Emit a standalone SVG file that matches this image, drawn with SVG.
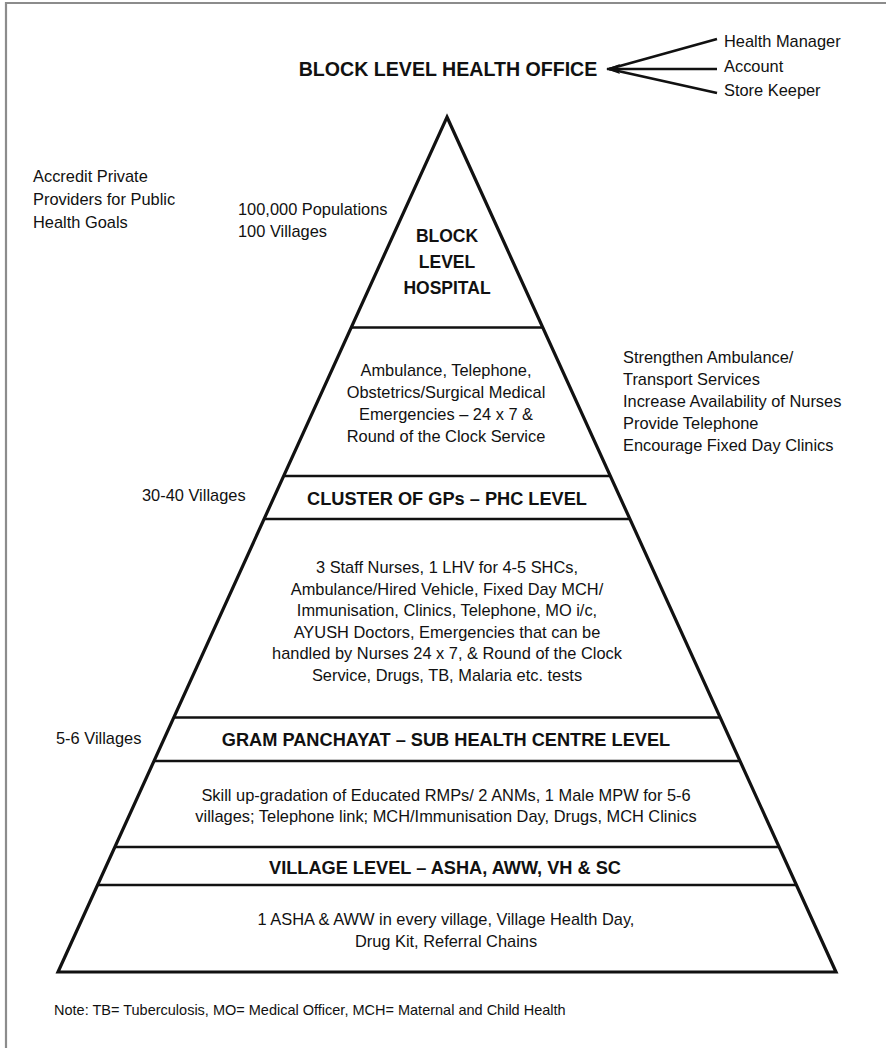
<svg xmlns="http://www.w3.org/2000/svg" width="886" height="1048" viewBox="0 0 886 1048">
<defs>
<marker id="arrow" viewBox="0 0 14 10" refX="13" refY="5" markerWidth="14" markerHeight="10" markerUnits="userSpaceOnUse" orient="auto">
<path d="M0,0 L14,5 L0,10 L3,5 z" fill="#111"/>
</marker>
<style>
text{font-family:"Liberation Sans",Arial,sans-serif;fill:#111}
.r{font-size:16.4px}
.c{font-size:16.4px;text-anchor:middle}
.b{font-size:18.2px;font-weight:bold;text-anchor:middle}
.band{stroke:#111;stroke-width:2.6;fill:none}
.conn{stroke:#111;stroke-width:2.6;fill:none}
</style>
</defs>
<rect width="886" height="1048" fill="#fff"/>
<g id="frame" stroke="#8c8c8c" stroke-width="2.2" fill="none">
<line x1="5" y1="3" x2="886" y2="3"/>
<line x1="6" y1="2" x2="6" y2="1048"/>
</g>

<g id="pyramid">
<line class="band" x1="351" y1="327.5" x2="543" y2="327.5"/>
<line class="band" x1="283" y1="476" x2="611" y2="476"/>
<line class="band" x1="264" y1="519" x2="630" y2="519"/>
<line class="band" x1="173" y1="717.5" x2="721" y2="717.5"/>
<line class="band" x1="154" y1="761" x2="740" y2="761"/>
<line class="band" x1="115" y1="847" x2="779" y2="847"/>
<line class="band" x1="97" y1="885" x2="797" y2="885" stroke-width="3"/>
<polygon points="447,117 836,972 58,972" fill="none" stroke="#111" stroke-width="3.2" stroke-linejoin="miter"/>
</g>

<g id="office">
<text x="448" y="76" style="font-size:19.6px;font-weight:bold;text-anchor:middle">BLOCK LEVEL HEALTH OFFICE</text>
</g>
<g id="staff">
<text class="r" x="724" y="47">Health Manager</text>
<text class="r" x="724" y="72">Account</text>
<text class="r" x="724" y="96">Store Keeper</text>
</g>
<g id="connectors">
<line class="conn" x1="717" y1="39" x2="609" y2="69"/>
<line class="conn" x1="717" y1="93" x2="609" y2="69"/>
<line class="conn" x1="717" y1="69" x2="607" y2="69" marker-end="url(#arrow)"/>
</g>

<g id="accredit">
<text class="r" x="33" y="182">Accredit Private</text>
<text class="r" x="33" y="205">Providers for Public</text>
<text class="r" x="33" y="228">Health Goals</text>
</g>
<g id="population">
<text class="r" x="238" y="215">100,000 Populations</text>
<text class="r" x="238" y="237">100 Villages</text>
</g>
<g id="block-hospital">
<text class="b" x="447" y="242" style="font-size:17.5px">BLOCK</text>
<text class="b" x="447" y="268" style="font-size:17.5px">LEVEL</text>
<text class="b" x="447" y="294" style="font-size:17.5px">HOSPITAL</text>
</g>
<g id="hospital-services">
<text class="c" x="446" y="376">Ambulance, Telephone,</text>
<text class="c" x="446" y="398">Obstetrics/Surgical Medical</text>
<text class="c" x="446" y="420">Emergencies – 24 x 7 &amp;</text>
<text class="c" x="446" y="442">Round of the Clock Service</text>
</g>
<g id="strengthen">
<text class="r" x="623" y="363">Strengthen Ambulance/</text>
<text class="r" x="623" y="385">Transport Services</text>
<text class="r" x="623" y="407">Increase Availability of Nurses</text>
<text class="r" x="623" y="429">Provide Telephone</text>
<text class="r" x="623" y="451">Encourage Fixed Day Clinics</text>
</g>
<g id="phc">
<text class="r" x="142" y="501">30-40 Villages</text>
<text class="b" x="447" y="505">CLUSTER OF GPs – PHC LEVEL</text>
</g>
<g id="phc-services">
<text class="c" x="447" y="573">3 Staff Nurses, 1 LHV for 4-5 SHCs,</text>
<text class="c" x="447" y="594.5">Ambulance/Hired Vehicle, Fixed Day MCH/</text>
<text class="c" x="447" y="616">Immunisation, Clinics, Telephone, MO i/c,</text>
<text class="c" x="447" y="637.5">AYUSH Doctors, Emergencies that can be</text>
<text class="c" x="447" y="659">handled by Nurses 24 x 7, &amp; Round of the Clock</text>
<text class="c" x="447" y="680.5">Service, Drugs, TB, Malaria etc. tests</text>
</g>
<g id="sub-centre">
<text class="r" x="56" y="744">5-6 Villages</text>
<text class="b" x="446" y="746">GRAM PANCHAYAT – SUB HEALTH CENTRE LEVEL</text>
</g>
<g id="sub-centre-services">
<text class="c" x="446" y="801">Skill up-gradation of Educated RMPs/ 2 ANMs, 1 Male MPW for 5-6</text>
<text class="c" x="446" y="822">villages; Telephone link; MCH/Immunisation Day, Drugs, MCH Clinics</text>
</g>
<g id="village">
<text class="b" x="445" y="874">VILLAGE LEVEL – ASHA, AWW, VH &amp; SC</text>
</g>
<g id="village-services">
<text class="c" x="446" y="924.5">1 ASHA &amp; AWW in every village, Village Health Day,</text>
<text class="c" x="446" y="946.5">Drug Kit, Referral Chains</text>
</g>
<g id="note">
<text x="54" y="1015" style="font-size:14.5px">Note: TB= Tuberculosis, MO= Medical Officer, MCH= Maternal and Child Health</text>
</g>
</svg>
